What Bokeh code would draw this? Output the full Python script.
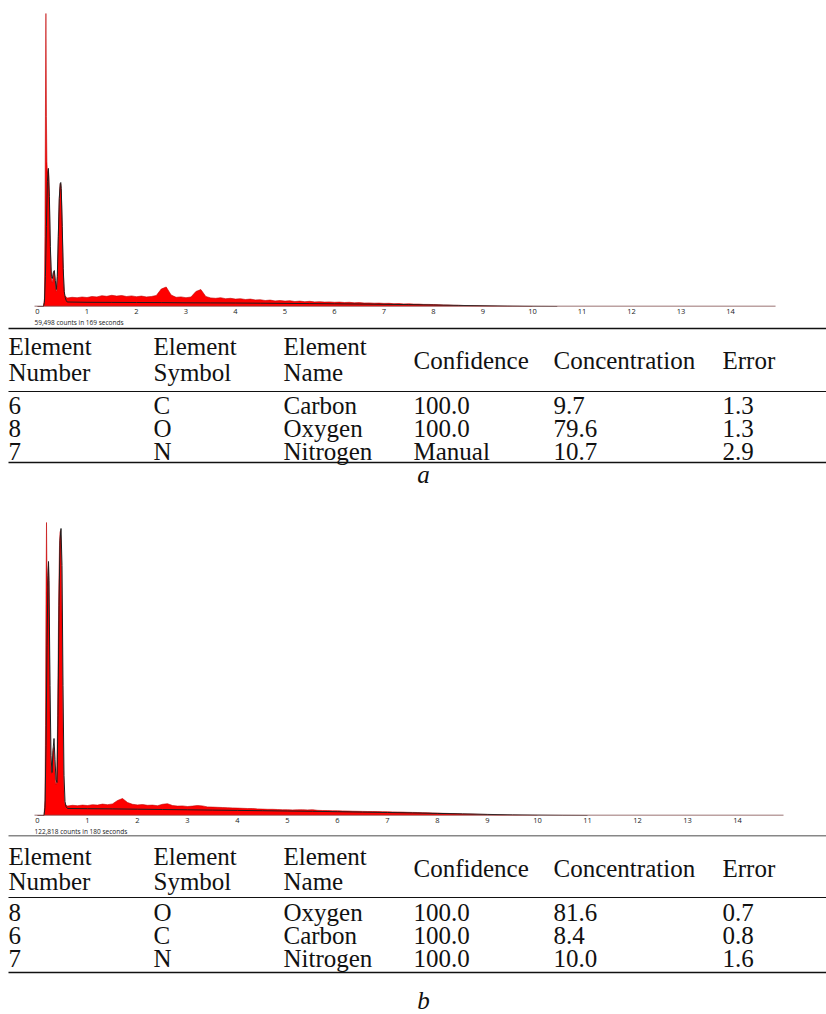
import numpy as np
from bokeh.plotting import figure
from bokeh.models import Range1d, FixedTicker, Title, ColumnDataSource
from bokeh.layouts import column
from bokeh.core.properties import value
from bokeh.embed import file_html
from bokeh.resources import INLINE

# ---------------- spectrum data (energy in keV, counts) ----------------
# low-energy peak region of spectrum a (measured, red)
peak_energy_a = [0.00, 0.12, 0.14, 0.15, 0.16, 0.17, 0.18, 0.19, 0.20, 0.21,
                 0.22, 0.23, 0.24, 0.25, 0.26, 0.27, 0.28, 0.29, 0.30, 0.31,
                 0.32, 0.33, 0.34, 0.35, 0.36, 0.37, 0.38, 0.39, 0.40, 0.41,
                 0.42, 0.43, 0.44, 0.45, 0.46, 0.47, 0.48, 0.49, 0.50, 0.51,
                 0.52, 0.53, 0.54, 0.55]
peak_counts_a = [0, 0, 80, 700, 1900, 2930, 1900, 1450, 1330, 1360,
                 1380, 1280, 1050, 780, 560, 400, 300, 250, 240, 280,
                 330, 350, 340, 290, 230, 180, 150, 160, 260, 450,
                 680, 900, 1070, 1180, 1230, 1230, 1150, 980, 760, 540,
                 360, 230, 150, 110]

# continuum channels 0.6 ... 10.0 keV, step 0.1
continuum_energy = np.round(np.arange(0.6, 10.001, 0.1), 2)
continuum_counts_a = [85, 92, 88, 95, 90, 100, 96, 108, 102, 112,
                      104, 110, 100, 106, 98, 104, 96, 100, 110, 175,
                      195, 115, 92, 96, 88, 95, 150, 170, 100, 86,
                      82, 88, 78, 82, 74, 78, 70, 74, 66, 68,
                      60, 64, 56, 60, 54, 58, 50, 54, 48, 52,
                      46, 48, 44, 46, 42, 44, 40, 42, 37, 39,
                      35, 36, 33, 34, 31, 32, 28, 29, 26, 27,
                      24, 24, 21, 21, 19, 18, 15, 15, 12, 12,
                      10, 9, 8, 7, 6, 5, 4, 3, 2, 2,
                      1, 1, 0, 0, 0]

# fitted curve of spectrum a (black)
fit_energy_a = [0.00, 0.12, 0.14, 0.16, 0.18, 0.20, 0.22, 0.24, 0.26, 0.28,
                0.30, 0.32, 0.34, 0.36, 0.38, 0.40, 0.42, 0.44, 0.46, 0.47,
                0.48, 0.50, 0.52, 0.54, 0.56, 0.58, 0.60, 1.0, 1.5, 2.0,
                2.5, 3.0, 3.5, 4.0, 4.5, 5.0, 5.5, 6.0, 6.5, 7.0,
                7.5, 8.0, 8.5, 9.0, 9.5, 10.0, 10.5]
fit_counts_a = [0, 0, 40, 300, 800, 1250, 1380, 1100, 600, 300,
                280, 340, 360, 260, 170, 300, 700, 1080, 1230, 1240,
                1180, 800, 380, 150, 90, 60, 45, 42, 41, 40,
                39, 37, 36, 35, 33, 31, 29, 27, 25, 22,
                19, 15, 11, 7, 3, 1, 0]

# low-energy peak region of spectrum b (measured, red)
peak_energy_b = [0.00, 0.13, 0.15, 0.16, 0.17, 0.18, 0.19, 0.20, 0.21, 0.22,
                 0.23, 0.24, 0.25, 0.26, 0.27, 0.28, 0.29, 0.30, 0.31, 0.32,
                 0.33, 0.34, 0.35, 0.36, 0.37, 0.38, 0.39, 0.40, 0.41, 0.42,
                 0.43, 0.44, 0.45, 0.46, 0.47, 0.48, 0.49, 0.50, 0.51, 0.52,
                 0.53, 0.54, 0.55]
peak_counts_b = [0, 0, 150, 900, 2200, 2930, 2400, 2300, 2450, 2500,
                 2200, 1600, 1000, 650, 480, 420, 440, 560, 650, 680,
                 640, 540, 420, 340, 310, 330, 500, 900, 1400, 1950,
                 2400, 2700, 2830, 2850, 2780, 2500, 2000, 1400, 850, 450,
                 230, 140, 110]

continuum_counts_b = [95, 102, 98, 104, 100, 108, 104, 114, 108, 116,
                      150, 170, 130, 112, 106, 110, 102, 104, 98, 112,
                      118, 100, 94, 96, 90, 94, 100, 96, 86, 84,
                      82, 80, 78, 76, 74, 72, 70, 70, 66, 64,
                      62, 62, 60, 58, 58, 56, 57, 58, 56, 58,
                      52, 50, 50, 48, 48, 46, 45, 43, 42, 41,
                      40, 40, 39, 38, 38, 36, 35, 34, 32, 31,
                      30, 28, 27, 25, 24, 22, 21, 19, 18, 16,
                      15, 14, 12, 11, 10, 8, 6, 5, 3, 3,
                      2, 1, 1, 0, 0]

fit_energy_b = [0.00, 0.13, 0.15, 0.17, 0.19, 0.21, 0.22, 0.23, 0.25, 0.27,
                0.29, 0.31, 0.33, 0.35, 0.37, 0.39, 0.41, 0.43, 0.45, 0.47,
                0.49, 0.51, 0.53, 0.55, 0.57, 0.60, 1.0, 1.5, 2.0, 2.5,
                3.0, 3.5, 4.0, 4.5, 5.0, 5.5, 6.0, 6.5, 7.0, 7.5,
                8.0, 8.5, 9.0, 9.5, 10.0, 10.5, 11.0]
fit_counts_b = [0, 0, 80, 700, 1700, 2400, 2540, 2350, 1300, 600,
                430, 650, 770, 560, 360, 330, 1000, 2100, 2750, 2870,
                2500, 1300, 400, 140, 90, 70, 68, 66, 63, 60,
                57, 54, 51, 48, 45, 42, 38, 34, 30, 26,
                21, 16, 11, 6, 3, 1, 0]

counts_text_a = "59,498 counts in 169 seconds"
counts_text_b = "122,818 counts in 180 seconds"
energy_ticks = list(range(0, 15))
energy_axis_min = -0.06   # extent of the energy baseline, keV
energy_axis_max_a = 14.91
energy_axis_max_b = 14.92

# ---------------- quantification tables ----------------
header_top = ["Element", "Element", "Element"]
header_bottom = ["Number", "Symbol", "Name"]
header_single = ["Confidence", "Concentration", "Error"]

number_a = ["6", "8", "7"]
symbol_a = ["C", "O", "N"]
name_a = ["Carbon", "Oxygen", "Nitrogen"]
confidence_a = ["100.0", "100.0", "Manual"]
concentration_a = ["9.7", "79.6", "10.7"]
error_a = ["1.3", "1.3", "2.9"]

number_b = ["8", "6", "7"]
symbol_b = ["O", "C", "N"]
name_b = ["Oxygen", "Carbon", "Nitrogen"]
confidence_b = ["100.0", "100.0", "100.0"]
concentration_b = ["81.6", "8.4", "10.0"]
error_b = ["0.7", "0.8", "1.6"]

RED = "#ff0000"
SERIF = value("Liberation Serif")
COL_X = [8, 153, 283, 413, 553, 722]
FONT_PX = "25px"
PAGE_W = 826


def spectrum(energy, counts, fit_e, fit_c, label, height, border_top,
             y_end, zero_px, px_per_kev, axis_max):
    # the frame spans the whole width; the energy scale is placed so that
    # 0 keV sits at zero_px
    x0 = -zero_px / px_per_kev
    x1 = x0 + PAGE_W / px_per_kev
    p = figure(width=PAGE_W, height=height, output_backend="svg",
               toolbar_location=None, x_range=Range1d(x0, x1),
               y_range=Range1d(0, y_end), y_axis_location=None,
               min_border_left=0, min_border_right=0,
               min_border_top=border_top, min_border_bottom=20)
    p.outline_line_color = None
    p.xgrid.visible = False
    p.ygrid.visible = False
    p.background_fill_color = "white"

    src = ColumnDataSource(dict(e=energy, c=counts))
    p.varea(x="e", y1=0, y2="c", source=src, fill_color=RED)
    p.line(x="e", y="c", source=src, line_color="#c00000", line_width=0.6)
    p.line(x=fit_e, y=fit_c, line_color="#1e1e1e", line_width=1)
    p.segment(x0=[energy_axis_min], y0=[0], x1=[axis_max], y1=[0],
              line_color="#7a4545", line_width=1.6)

    ax = p.xaxis[0]
    ax.ticker = FixedTicker(ticks=energy_ticks)
    ax.major_tick_line_color = None
    ax.minor_tick_line_color = None
    ax.major_tick_out = 0
    ax.major_tick_in = 0
    ax.minor_tick_out = 0
    ax.axis_line_color = None
    ax.major_label_standoff = 2
    ax.major_label_text_font = "Open Sans"
    ax.major_label_text_font_size = "7.5px"
    ax.major_label_text_color = "#222222"

    p.add_layout(Title(text=label, align="left", standoff=-2,
                       offset=zero_px - 3, text_font="Open Sans",
                       text_font_size="6.5px", text_font_style="normal",
                       text_color="#222222"),
                 "below")
    return p


def table(height, top_rule, line1_y, line2_y, single_y, mid_rule, row_y,
          bottom_rule, caption, caption_y, cols):
    p = figure(width=PAGE_W, height=height, output_backend="svg",
               toolbar_location=None, x_range=Range1d(0, PAGE_W),
               y_range=Range1d(height, 0), x_axis_location=None,
               y_axis_location=None, min_border=0, min_border_left=0,
               min_border_right=0, min_border_top=0, min_border_bottom=0)
    p.outline_line_color = None
    p.xgrid.visible = False
    p.ygrid.visible = False

    p.segment(x0=[8, 8, 8], y0=[top_rule, mid_rule, bottom_rule],
              x1=[PAGE_W, PAGE_W, PAGE_W], y1=[top_rule, mid_rule, bottom_rule],
              line_color="#111111", line_width=[1.6, 1.1, 1.6])

    tx, ty, tt = [], [], []
    for j in range(3):
        tx += [COL_X[j], COL_X[j]]
        ty += [line1_y, line2_y]
        tt += [header_top[j], header_bottom[j]]
    for j in range(3):
        tx.append(COL_X[3 + j])
        ty.append(single_y)
        tt.append(header_single[j])
    for j, col in enumerate(cols):
        for i, v in enumerate(col):
            tx.append(COL_X[j])
            ty.append(row_y[i])
            tt.append(v)
    p.text(x=tx, y=ty, text=tt, text_font=SERIF, text_font_size=FONT_PX,
           text_baseline="middle", text_align="left", text_color="#111111")
    p.text(x=[423], y=[caption_y], text=[caption], text_font=SERIF,
           text_font_size=FONT_PX, text_font_style="italic",
           text_baseline="middle", text_align="center", text_color="#111111")
    return p


energy_a = list(peak_energy_a) + list(continuum_energy)
counts_a = list(peak_counts_a) + list(continuum_counts_a)
energy_b = list(peak_energy_b) + list(continuum_energy)
counts_b = list(peak_counts_b) + list(continuum_counts_b)

spec_a = spectrum(energy_a, counts_a, fit_energy_a, fit_counts_a,
                  counts_text_a, 326, 8, 2980, 37, 49.5, energy_axis_max_a)
tab_a = table(164, 2, 20, 46, 34, 65, [79, 102, 125], 136, "a", 148,
              [number_a, symbol_a, name_a, confidence_a, concentration_a,
               error_a])
spec_b = spectrum(energy_b, counts_b, fit_energy_b, fit_counts_b,
                  counts_text_b, 345, 8, 3170, 37, 50.0, energy_axis_max_b)
tab_b = table(179, 0, 21, 46, 33, 62, [77, 100, 123], 137, "b", 165,
              [number_b, symbol_b, name_b, confidence_b, concentration_b,
               error_b])

page = column(spec_a, tab_a, spec_b, tab_b, spacing=0)
open("out.html", "w").write(file_html(page, INLINE))
